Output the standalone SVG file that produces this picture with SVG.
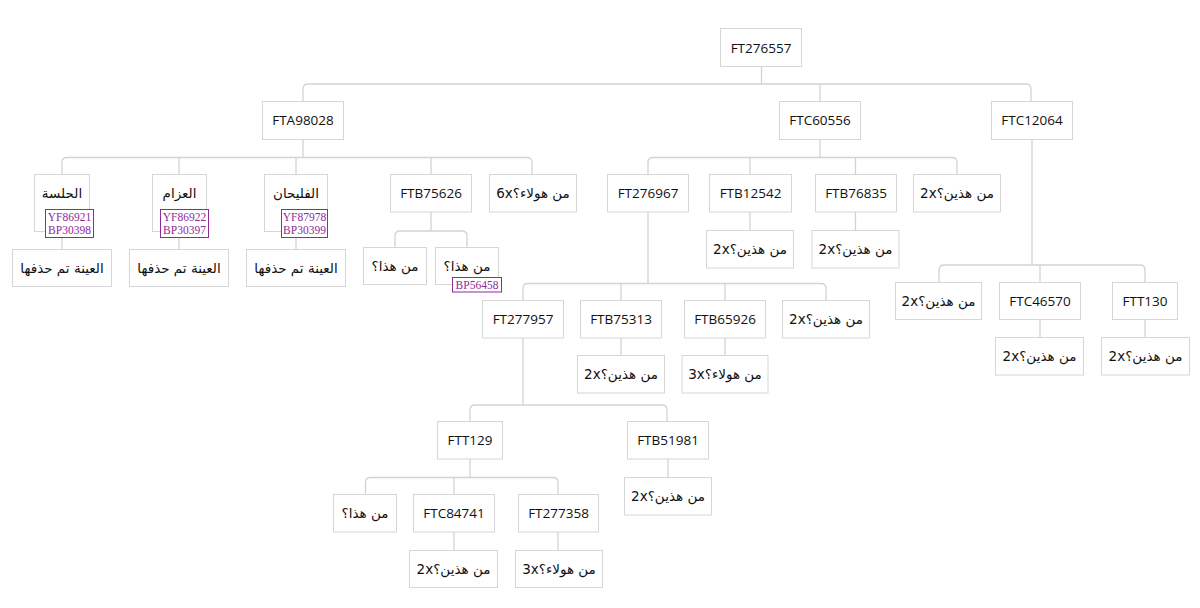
<svg xmlns="http://www.w3.org/2000/svg" width="1200" height="608" viewBox="0 0 1200 608">
<style>
.b{fill:#fff;stroke:#d6d6d6;stroke-width:1}
.t{font-family:"Open Sans","DejaVu Sans",sans-serif;font-size:13.5px;fill:#111;text-anchor:middle}
.ar{font-family:"DejaVu Sans","Noto Sans",sans-serif;font-size:13.5px;fill:#111;text-anchor:middle;direction:rtl;unicode-bidi:embed}
.lb{fill:#fff;stroke:#8e2a9c;stroke-width:1}
.lt{font-family:"Liberation Serif",serif;font-size:11.5px;fill:#8e2a9c;text-anchor:middle}
.c{fill:none;stroke:#d3d3d3;stroke-width:1.3}
</style>
<rect width="1200" height="608" fill="#fff"/>
<g id="connectors" class="c">
<path d="M761.5,66.5V84M303,101.5V89Q303,84 308,84H1026Q1031,84 1031,89V101.5M820,84V101.5"/>
<path d="M303,139.5V157.5M62,174V162.5Q62,157.5 67,157.5H527Q532,157.5 532,162.5V174M179,157.5V174M296,157.5V174M431,157.5V174"/>
<path d="M62,231V249M179,231V249M296,231V249"/>
<path d="M431,212V231M395,247.5V236Q395,231 400,231H462Q467,231 467,236V247.5"/>
<path d="M820,139.5V157.5M648,174V162.5Q648,157.5 653,157.5H952Q957,157.5 957,162.5V174M750,157.5V174M855.5,157.5V174"/>
<path d="M750,212V230.5M855.5,212V230.5"/>
<path d="M648,212V283.5M523,300.5V288.5Q523,283.5 528,283.5H821Q826,283.5 826,288.5V300.5M621,283.5V300.5M725,283.5V300.5"/>
<path d="M621,338V355.5M725,338V355.5"/>
<path d="M523,338V405M470,421.5V410Q470,405 475,405H662Q667,405 667,410V421.5"/>
<path d="M470,459V477.5M365.5,494.5V482.5Q365.5,477.5 370.5,477.5H553Q558,477.5 558,482.5V494.5M454,477.5V494.5"/>
<path d="M454,532V550.5M558,532V550.5M668,459V477.5"/>
<path d="M1032,139.5V265M939,282.5V270Q939,265 944,265H1140Q1145,265 1145,270V282.5M1040,265V282.5"/>
<path d="M1040,319.5V337.5M1145,319.5V337.5"/>
</g>
<g id="n-root"><rect class="b" x="720.5" y="28.5" width="81" height="38"/><text class="t" x="761" y="52.5">FT276557</text></g>
<g id="n-FTA98028"><rect class="b" x="262.5" y="101.5" width="81" height="38"/><text class="t" x="303" y="125">FTA98028</text></g>
<g id="n-FTC60556"><rect class="b" x="779.5" y="101.5" width="81" height="38"/><text class="t" x="820" y="125">FTC60556</text></g>
<g id="n-FTC12064"><rect class="b" x="991.5" y="101.5" width="81" height="38"/><text class="t" x="1032" y="125">FTC12064</text></g>

<g id="n-halsa"><rect class="b" x="34.5" y="174.5" width="55" height="57"/><text class="ar" x="62" y="198">الحلسة</text>
<rect class="lb" x="45.5" y="209.5" width="48" height="28"/><text class="lt" x="69.5" y="221">YF86921</text><text class="lt" x="69.5" y="234">BP30398</text></g>
<g id="n-azzam"><rect class="b" x="152.5" y="174.5" width="54" height="57"/><text class="ar" x="179.5" y="198">العزام</text>
<rect class="lb" x="160.5" y="209.5" width="48" height="28"/><text class="lt" x="184.5" y="221">YF86922</text><text class="lt" x="184.5" y="234">BP30397</text></g>
<g id="n-fulayhan"><rect class="b" x="264.5" y="174.5" width="63" height="57"/><text class="ar" x="296" y="198">الفليحان</text>
<rect class="lb" x="281.5" y="209.5" width="46" height="28"/><text class="lt" x="304.5" y="221">YF87978</text><text class="lt" x="304.5" y="234">BP30399</text></g>
<g id="n-del1"><rect class="b" x="12.5" y="249.5" width="99" height="37"/><text class="ar" x="62" y="273">العينة تم حذفها</text></g>
<g id="n-del2"><rect class="b" x="129.5" y="249.5" width="99" height="37"/><text class="ar" x="179" y="273">العينة تم حذفها</text></g>
<g id="n-del3"><rect class="b" x="246.5" y="249.5" width="99" height="37"/><text class="ar" x="296" y="273">العينة تم حذفها</text></g>

<g id="n-FTB75626"><rect class="b" x="390.5" y="174.5" width="81" height="37.5"/><text class="t" x="431" y="198">FTB75626</text></g>
<g id="n-6x"><rect class="b" x="489.5" y="174.5" width="87" height="37.5"/><text class="ar" x="533" y="198">من هولاء؟6x</text></g>
<g id="n-who1"><rect class="b" x="363.5" y="247.5" width="63" height="37"/><text class="ar" x="395" y="271">من هذا؟</text></g>
<g id="n-who2"><rect class="b" x="435.5" y="247.5" width="63" height="37"/><text class="ar" x="467" y="271">من هذا؟</text>
<rect class="lb" x="452.5" y="277.5" width="49" height="14.5"/><text class="lt" x="477" y="288.5">BP56458</text></g>

<g id="n-FT276967"><rect class="b" x="607.5" y="174.5" width="81" height="37.5"/><text class="t" x="648" y="198">FT276967</text></g>
<g id="n-FTB12542"><rect class="b" x="709.5" y="174.5" width="82" height="37.5"/><text class="t" x="750.5" y="198">FTB12542</text></g>
<g id="n-FTB76835"><rect class="b" x="815.5" y="174.5" width="81" height="37.5"/><text class="t" x="856" y="198">FTB76835</text></g>
<g id="n-2x-a"><rect class="b" x="913.5" y="174.5" width="87" height="37.5"/><text class="ar" x="957" y="198">من هذين؟2x</text></g>
<g id="n-2x-b"><rect class="b" x="706.5" y="230.5" width="87" height="37.5"/><text class="ar" x="750" y="254">من هذين؟2x</text></g>
<g id="n-2x-c"><rect class="b" x="812" y="230.5" width="87" height="37.5"/><text class="ar" x="855.5" y="254">من هذين؟2x</text></g>

<g id="n-FT277957"><rect class="b" x="482.5" y="300.5" width="81" height="37.5"/><text class="t" x="523" y="324">FT277957</text></g>
<g id="n-FTB75313"><rect class="b" x="580.5" y="300.5" width="81" height="37.5"/><text class="t" x="621" y="324">FTB75313</text></g>
<g id="n-FTB65926"><rect class="b" x="684.5" y="300.5" width="81" height="37.5"/><text class="t" x="725" y="324">FTB65926</text></g>
<g id="n-2x-d"><rect class="b" x="782.5" y="300.5" width="87" height="37.5"/><text class="ar" x="826" y="324">من هذين؟2x</text></g>
<g id="n-2x-e"><rect class="b" x="577.5" y="355.5" width="87" height="37.5"/><text class="ar" x="621" y="379">من هذين؟2x</text></g>
<g id="n-3x-a"><rect class="b" x="682" y="355.5" width="86" height="37.5"/><text class="ar" x="725" y="379">من هولاء؟3x</text></g>

<g id="n-FTT129"><rect class="b" x="437.5" y="421.5" width="65" height="37.5"/><text class="t" x="470" y="445">FTT129</text></g>
<g id="n-FTB51981"><rect class="b" x="627.5" y="421.5" width="81" height="37.5"/><text class="t" x="668" y="445">FTB51981</text></g>
<g id="n-2x-f"><rect class="b" x="624.5" y="477.5" width="87" height="37.5"/><text class="ar" x="668" y="501">من هذين؟2x</text></g>
<g id="n-who3"><rect class="b" x="333.5" y="494.5" width="63" height="37.5"/><text class="ar" x="365" y="518">من هذا؟</text></g>
<g id="n-FTC84741"><rect class="b" x="413.5" y="494.5" width="81" height="37.5"/><text class="t" x="454" y="518">FTC84741</text></g>
<g id="n-FT277358"><rect class="b" x="518.5" y="494.5" width="80" height="37.5"/><text class="t" x="558.5" y="518">FT277358</text></g>
<g id="n-2x-g"><rect class="b" x="409.5" y="550.5" width="88" height="37"/><text class="ar" x="453.5" y="574">من هذين؟2x</text></g>
<g id="n-3x-b"><rect class="b" x="515.5" y="550.5" width="87" height="37"/><text class="ar" x="559" y="574">من هولاء؟3x</text></g>

<g id="n-2x-h"><rect class="b" x="895.5" y="282.5" width="86" height="37"/><text class="ar" x="938.5" y="306">من هذين؟2x</text></g>
<g id="n-FTC46570"><rect class="b" x="999.5" y="282.5" width="81" height="37"/><text class="t" x="1040" y="306">FTC46570</text></g>
<g id="n-FTT130"><rect class="b" x="1112.5" y="282.5" width="65" height="37"/><text class="t" x="1145" y="306">FTT130</text></g>
<g id="n-2x-i"><rect class="b" x="995.5" y="337.5" width="88" height="37.5"/><text class="ar" x="1039.5" y="361">من هذين؟2x</text></g>
<g id="n-2x-j"><rect class="b" x="1101.5" y="337.5" width="88" height="37.5"/><text class="ar" x="1145.5" y="361">من هذين؟2x</text></g>
</svg>
